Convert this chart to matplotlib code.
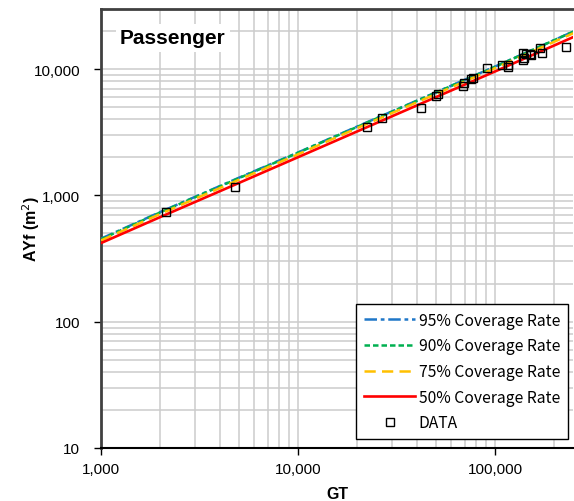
import numpy as np
import matplotlib.pyplot as plt
from matplotlib.ticker import FuncFormatter, LogLocator, NullFormatter

# coverage-rate curves, read at fixed GT values
gt_curve = [1000, 2000, 5000, 10000, 20000, 50000, 100000, 250000]
ayf_95 = [455, 740, 1380, 2190, 3520, 6550, 10500, 19900]
ayf_90 = [450, 735, 1370, 2180, 3500, 6520, 10450, 19900]
ayf_75 = [440, 715, 1330, 2120, 3420, 6350, 10200, 19300]
ayf_50 = [420, 675, 1255, 2010, 3220, 6000, 9600, 18000]

# observed ships
gt_data = [2140, 4790, 22500, 26600, 42100, 50000, 51200, 69000, 69500, 75900,
           77600, 91000, 108900, 116800, 117000, 138700, 138700, 140000, 143200,
           150000, 152700, 168700, 173300, 228600]
ayf_data = [741, 1167, 3460, 4080, 4890, 6150, 6310, 7380, 7750, 8340,
            8490, 10180, 10800, 10430, 10800, 11840, 13370, 12370, 13130,
            13130, 12980, 14830, 13550, 15100]

plt.rcParams['font.family'] = ['Liberation Sans', 'DejaVu Sans']

fig = plt.figure(figsize=(5.74, 5.02), dpi=100)
ax = fig.add_axes([0.176, 0.1056, 0.823, 0.8745])

ax.plot(gt_curve, ayf_95, color='#1f77c8', lw=1.8, dashes=[5, 1.5, 1.5, 1.5],
        label='95% Coverage Rate', zorder=3)
ax.plot(gt_curve, ayf_90, color='#00b050', lw=1.8, dashes=[2.2, 1.2],
        label='90% Coverage Rate', zorder=3)
ax.plot(gt_curve, ayf_75, color='#ffc000', lw=1.8, dashes=[4.5, 2.5],
        label='75% Coverage Rate', zorder=3)
ax.plot(gt_curve, ayf_50, color='#ff0000', lw=1.9,
        label='50% Coverage Rate', zorder=3)
ax.plot(gt_data, ayf_data, ls='none', marker='s', ms=5.2, mfc='none',
        mec='black', mew=1.0, label='DATA', zorder=4)

ax.set_xscale('log')
ax.set_yscale('log')
ax.set_xlim(1000, 250000)
ax.set_ylim(10, 30000)

ax.xaxis.set_major_locator(LogLocator(base=10, numticks=10))
ax.yaxis.set_major_locator(LogLocator(base=10, numticks=10))
ax.xaxis.set_minor_locator(LogLocator(base=10, subs=np.arange(2, 10), numticks=20))
ax.yaxis.set_minor_locator(LogLocator(base=10, subs=np.arange(2, 10), numticks=20))
fmt = FuncFormatter(lambda v, p: f'{v:,.0f}')
ax.xaxis.set_major_formatter(fmt)
ax.yaxis.set_major_formatter(fmt)
ax.xaxis.set_minor_formatter(NullFormatter())
ax.yaxis.set_minor_formatter(NullFormatter())

ax.grid(True, which='both', color='#cccccc', lw=1.1)
ax.set_axisbelow(True)
ax.tick_params(which='major', direction='out', length=5, width=1,
               labelsize=11, colors='black')
ax.tick_params(axis='y', which='major', pad=10)
ax.tick_params(axis='x', which='major', pad=5)
ax.tick_params(which='minor', length=0)

for side in ['left', 'top']:
    ax.spines[side].set_color('#404040')
    ax.spines[side].set_linewidth(2)
ax.spines['bottom'].set_color('black')
ax.spines['bottom'].set_linewidth(1.5)
ax.spines['right'].set_visible(False)

ax.set_xlabel('GT', fontsize=11.5, fontweight='bold', labelpad=7)
ax.set_ylabel('AYf (m$^2$)', fontsize=11.5, fontweight='bold')
ax.yaxis.set_label_coords(-0.126, 0.5)

ax.text(0.04, 0.934, 'Passenger', transform=ax.transAxes, fontsize=15,
        fontweight='bold', va='center', ha='left',
        bbox=dict(facecolor='white', edgecolor='none', pad=3))

leg = ax.legend(loc='lower right', bbox_to_anchor=(0.988, 0.02),
                prop={'family': ['Noto Sans CJK JP', 'DejaVu Sans'], 'size': 11.3},
                fancybox=False, framealpha=1, edgecolor='black',
                handlelength=3.3, handletextpad=0.2, labelspacing=0.55,
                borderpad=0.5, borderaxespad=0)
leg.get_frame().set_linewidth(1.0)

fig.savefig('out.png', dpi=100)
